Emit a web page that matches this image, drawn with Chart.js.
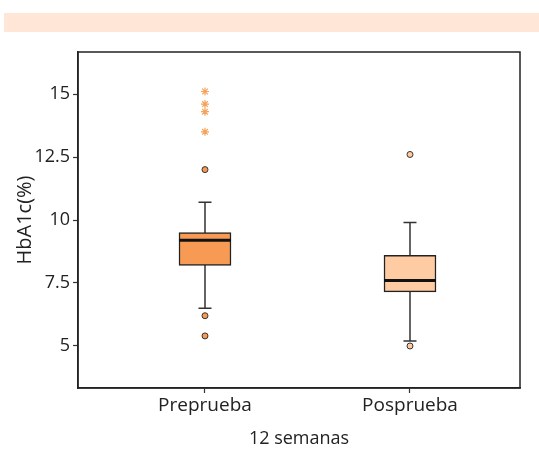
<!DOCTYPE html>
<html>
<head>
<meta charset="utf-8">
<script src="https://cdn.jsdelivr.net/npm/chart.js@4.4.0/dist/chart.umd.min.js"></script>
<style>
  html, body { margin: 0; padding: 0; background: #fff; }
  #wrap { width: 539px; height: 450px; position: relative; }
</style>
</head>
<body>
<div id="wrap"><canvas id="myChart"></canvas></div>
<script>
const groups = ['Preprueba', 'Posprueba'];
const groupPos = [1, 2];
const q1 = [8.2, 7.15];
const q3 = [9.5, 8.6];
const medians = [9.2, 7.6];
const whiskLow = [6.5, 5.2];
const whiskHigh = [10.7, 9.9];
// outliers drawn as circles and extreme ones as stars
const outlierGroup = [1, 1, 1, 2, 2];
const outlierValue = [12.0, 6.2, 5.4, 12.6, 5.0];
const extremeGroup = [1, 1, 1, 1];
const extremeValue = [15.1, 14.6, 14.3, 13.5];
const yTicks = [5, 7.5, 10, 12.5, 15];

const boxColors = ['#F79B54', '#FFCBA2'];
const fontFam = '"Open Sans", Lato, sans-serif';

const boxPlugin = {
  id: 'boxParts',
  beforeDraw(chart) {
    const c = chart.ctx;
    c.save();
    c.fillStyle = '#FFE6D6';
    c.fillRect(4, 13, 535, 19);
    c.restore();
  },
  beforeDatasetsDraw(chart) {
    const c = chart.ctx, x = chart.scales.x, y = chart.scales.y;
    c.save();
    c.strokeStyle = '#333';
    c.lineWidth = 1.5;
    groupPos.forEach((g, i) => {
      const px = x.getPixelForValue(g);
      c.beginPath();
      c.moveTo(px, y.getPixelForValue(whiskLow[i]));
      c.lineTo(px, y.getPixelForValue(whiskHigh[i]));
      [whiskLow[i], whiskHigh[i]].forEach(v => {
        const py = y.getPixelForValue(v);
        c.moveTo(px - 6.5, py);
        c.lineTo(px + 6.5, py);
      });
      c.stroke();
    });
    c.restore();
  },
  afterDatasetsDraw(chart) {
    const c = chart.ctx, x = chart.scales.x, y = chart.scales.y;
    const area = chart.chartArea;
    c.save();
    c.strokeStyle = '#111';
    c.lineWidth = 3;
    groupPos.forEach((g, i) => {
      const px = x.getPixelForValue(g);
      const py = y.getPixelForValue(medians[i]);
      c.beginPath();
      c.moveTo(px - 26, py);
      c.lineTo(px + 26, py);
      c.stroke();
    });
    c.lineWidth = 1.5;
    c.strokeStyle = '#222';
    c.strokeRect(area.left, area.top, area.right - area.left, area.bottom - area.top);
    c.restore();
  }
};

const ctx = document.getElementById('myChart').getContext('2d');
let myChart = new Chart(ctx, {
  type: 'bar',
  data: {
    datasets: [
      {
        type: 'bar',
        data: groupPos.map((g, i) => ({ x: g, y: [q1[i], q3[i]] })),
        backgroundColor: boxColors,
        borderColor: '#222',
        borderWidth: 1.5,
        borderSkipped: false,
        barThickness: 52,
        order: 2
      },
      {
        type: 'scatter',
        data: outlierGroup.map((g, i) => ({ x: g, y: outlierValue[i] })),
        pointRadius: 3,
        pointBackgroundColor: outlierGroup.map(g => boxColors[g - 1]),
        pointBorderColor: '#333',
        pointBorderWidth: 1,
        order: 1
      },
      {
        type: 'scatter',
        data: extremeGroup.map((g, i) => ({ x: g, y: extremeValue[i] })),
        pointStyle: 'star',
        pointRadius: 4,
        pointBorderColor: '#F5A35C',
        pointBorderWidth: 1.2,
        order: 1
      }
    ]
  },
  plugins: [boxPlugin],
  options: {
    responsive: true,
    maintainAspectRatio: false,
    animation: false,
    layout: { padding: { top: 52, right: 19, left: 0, bottom: 0 } },
    plugins: { legend: { display: false }, tooltip: { enabled: false } },
    scales: {
      x: {
        type: 'linear',
        offset: false,
        min: 0.3805,
        max: 2.5366,
        afterFit: s => { s.height = 62; },
        afterBuildTicks: s => { s.ticks = groupPos.map(v => ({ value: v })); },
        ticks: {
          color: '#222',
          font: { family: fontFam, size: 19 },
          padding: 1,
          callback: v => groups[groupPos.indexOf(v)]
        },
        grid: { offset: false, drawOnChartArea: false, tickLength: 5, tickColor: '#333', tickWidth: 1.2 },
        border: { color: '#222', width: 1.5 },
        title: {
          display: true,
          text: '12 semanas',
          color: '#222',
          font: { family: fontFam, size: 18 },
          padding: { top: 0, bottom: 0 }
        }
      },
      y: {
        min: 3.333,
        max: 16.667,
        afterFit: s => { s.width = 78; },
        afterBuildTicks: s => { s.ticks = yTicks.map(v => ({ value: v })); },
        ticks: {
          color: '#222',
          font: { family: fontFam, size: 18 },
          padding: 3
        },
        grid: { drawOnChartArea: false, tickLength: 5, tickColor: '#333', tickWidth: 1.2 },
        border: { color: '#222', width: 1.5 },
        title: {
          display: true,
          text: 'HbA1c(%)',
          color: '#222',
          font: { family: fontFam, size: 20 },
          padding: { top: 13, bottom: 0 }
        }
      }
    }
  }
});
</script>
</body>
</html>
